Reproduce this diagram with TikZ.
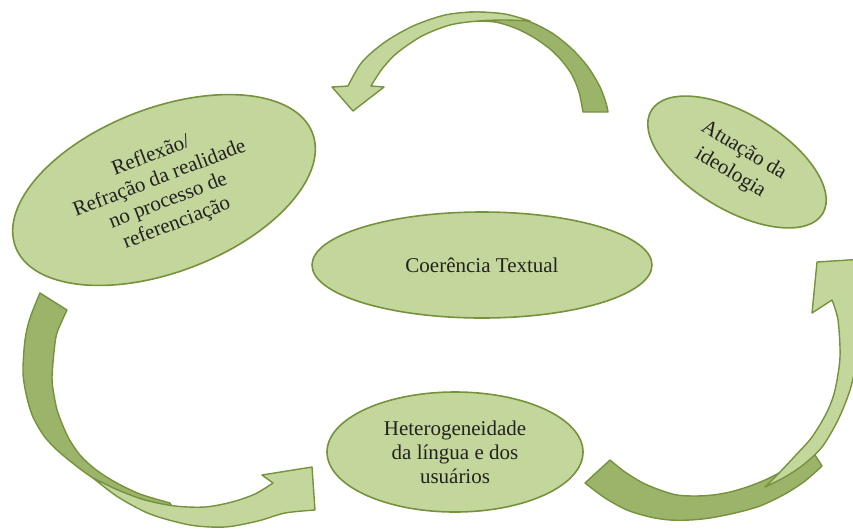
\documentclass[tikz,border=0pt]{standalone}
\usepackage{fontspec}
\setmainfont{Liberation Serif}
\usetikzlibrary{shapes.geometric}
\definecolor{fillL}{HTML}{C3D69B}
\definecolor{fillD}{HTML}{9CB46A}
\definecolor{edgeC}{HTML}{76923C}
\definecolor{txtC}{HTML}{222222}
\begin{document}
\begin{tikzpicture}[x=1pt,y=-1pt,
  bubble/.style={ellipse, draw=edgeC, fill=fillL, line width=1.6pt, inner sep=0pt,
    align=center, text=txtC, font=\fontsize{21}{24}\selectfont},
  front/.style={fill=fillL, draw=edgeC, line width=1.4pt, line join=round},
  back/.style={fill=fillD, draw=edgeC, line width=1.4pt, line join=round}]
\useasboundingbox (0,0) rectangle (853,531);
\clip (0,0) rectangle (853,531);

% ellipses
\node[bubble, minimum width=318pt, minimum height=164pt, rotate=21] (refl) at (164,190)
  {Reflexão/\\Refração da realidade\\no processo de\\referenciação};
\node[bubble, minimum width=200pt, minimum height=96pt, rotate=-31,
  font=\fontsize{21}{26}\selectfont] (atua) at (737,162)
  {Atuação da\\ideologia};
\node[bubble, minimum width=340pt, minimum height=106pt] (coer) at (482,265)
  {Coerência Textual};
\node[bubble, minimum width=256pt, minimum height=120pt] (het) at (455,452)
  {Heterogeneidade\\da língua e dos\\usuários};

% top curved arrow
\filldraw[back] plot[smooth] coordinates {(462,13) (475,12) (500,14) (528,21) (552,33) (572,49) (588,67) (600,87) (606,103) (608,112)}
  -- plot[smooth] coordinates {(583,112) (579,92) (572,75) (562,61) (550,49) (533,37) (515,28) (495,22) (470,21)} -- cycle;
\filldraw[front] plot[smooth] coordinates {(530,21) (505,14) (475,12) (445,15) (413,26) (385,42) (362,62) (348,86)}
  -- (332,87) -- (353,111) -- (384,87)
  -- plot[smooth] coordinates {(371,86) (382,69) (397,53) (422,36) (450,25) (478,21) (505,20) (530,21)} -- cycle;

% left curved arrow
\filldraw[back] plot[smooth] coordinates {(40,293) (30,318) (25,340) (23,373) (27,398) (33,417) (44,436) (57,450) (75,465) (93,478) (120,494) (150,507) (175,512)}
  -- plot[smooth] coordinates {(170,503) (140,494) (115,482) (95,469) (80,455) (68,437) (58,413) (54,395) (52,377) (55,343) (58,330) (67,310)} -- cycle;
\filldraw[front] plot[smooth] coordinates {(93,478) (118,497) (150,514) (190,525) (225,527) (258,521) (285,513) (315,510)}
  -- (312,467) -- (262,475)
  -- plot[smooth] coordinates {(273,483) (255,494) (232,502) (205,507) (175,506) (145,500) (118,490) (93,478)} -- cycle;

% bottom-right curved arrow
\filldraw[back] plot[smooth] coordinates {(585,483) (605,498) (627,510) (650,517) (670,520) (690,520) (710,518) (735,513) (760,506) (785,494) (805,481) (822,466)}
  -- plot[smooth] coordinates {(815,455) (800,462) (785,470) (765,480) (747,487) (730,492) (713,495) (695,496) (677,495) (660,490) (643,483) (625,472) (610,460)} -- cycle;
\filldraw[front] plot[smooth] coordinates {(765,487) (785,477) (803,465) (822,447) (838,420) (850,390) (858,355) (862,320) (865,290) (870,285)}
  -- (880,258) -- (817,262) -- (812,313)
  -- plot[smooth] coordinates {(832,300) (838,320) (840,357) (835,390) (827,412) (812,437) (795,456) (780,472) (765,487)} -- cycle;
\end{tikzpicture}
\end{document}
